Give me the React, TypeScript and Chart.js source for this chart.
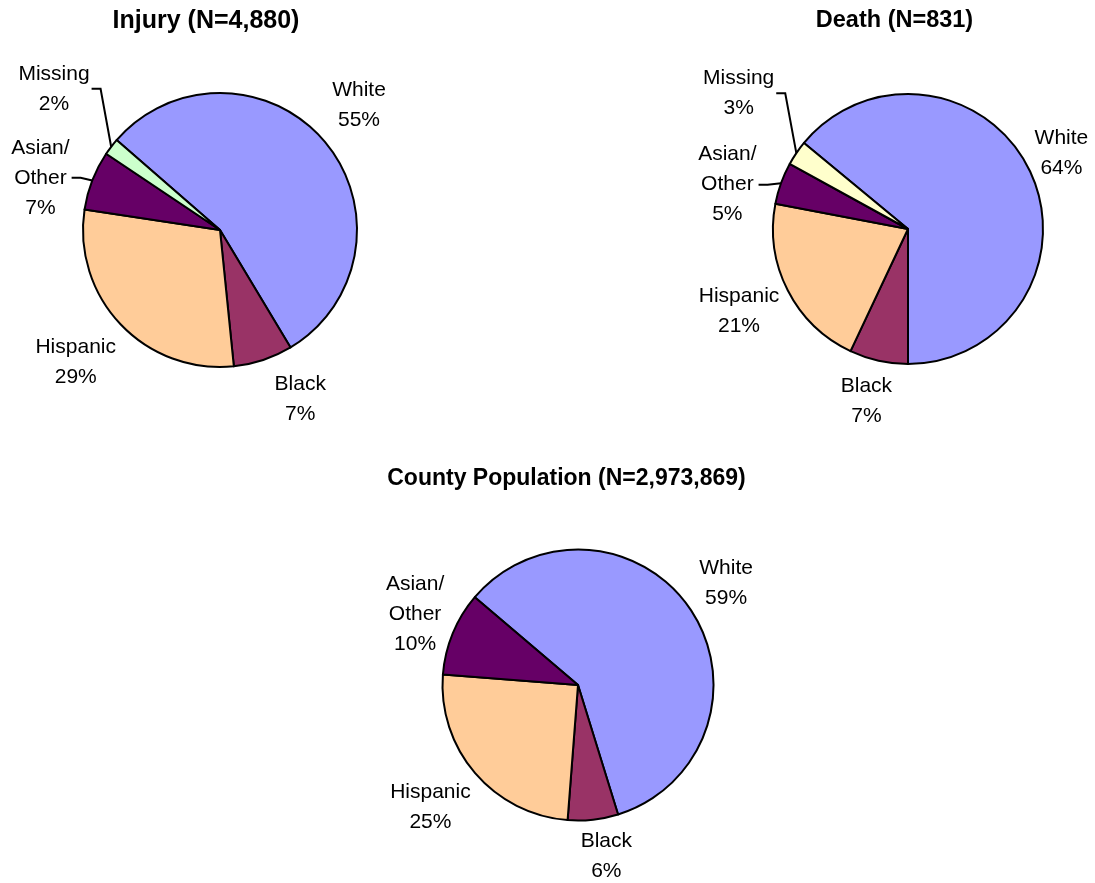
import React, { useEffect, useRef } from "react";
import { Chart, registerables } from "chart.js";

Chart.register(...registerables);

const FONT = '"Liberation Sans", Arial, Helvetica, sans-serif';

// ---- data ----
const injuryCategories = ["White", "Black", "Hispanic", "Asian/Other", "Missing"];
const injuryValues = [55, 7, 29, 7, 2];
const deathCategories = ["White", "Black", "Hispanic", "Asian/Other", "Missing"];
const deathValues = [64, 7, 21, 5, 3];
const popCategories = ["White", "Black", "Hispanic", "Asian/Other"];
const popValues = [59, 6, 25, 10];

const injuryColors = ["#9999FF", "#993366", "#FFCC99", "#660066", "#CCFFCC"];
const deathColors = ["#9999FF", "#993366", "#FFCC99", "#660066", "#FFFFCC"];
const popColors = ["#9999FF", "#993366", "#FFCC99", "#660066"];

// ---- layout (label placement: [angle nudge in deg, distance beyond rim]) ----
type Panel = {
  title: string;
  titleSize: number;
  titleX: number;
  titleY: number;
  categories: string[];
  values: number[];
  colors: string[];
  rotation: number;
  left: number;
  top: number;
  width: number;
  height: number;
  cx: number;
  cy: number;
  r: number;
  place: [number, number][];
  leaders: boolean[];
};

const BW = 2;
const LABEL_SIZE = 21;
const LINE_H = 30;

const panels: Panel[] = [
  {
    title: "Injury (N=4,880)",
    titleSize: 25,
    titleX: 206,
    titleY: 21,
    categories: injuryCategories,
    values: injuryValues,
    colors: injuryColors,
    rotation: -49,
    left: 0,
    top: 0,
    width: 548,
    height: 440,
    cx: 220,
    cy: 230,
    r: 137,
    place: [[-2, 50], [-7, 50], [1, 59], [-5, 50], [3, 81]],
    leaders: [false, false, false, true, true],
  },
  {
    title: "Death (N=831)",
    titleSize: 23.5,
    titleX: 894.5,
    titleY: 21,
    categories: deathCategories,
    values: deathValues,
    colors: deathColors,
    rotation: -50.4,
    left: 548,
    top: 0,
    width: 547,
    height: 440,
    cx: 908,
    cy: 229,
    r: 135,
    place: [[-1, 36], [1, 42], [1, 53], [-6, 51], [4.5, 82]],
    leaders: [false, false, false, true, true],
  },
  {
    title: "County Population (N=2,973,869)",
    titleSize: 23,
    titleX: 566.5,
    titleY: 479,
    categories: popCategories,
    values: popValues,
    colors: popColors,
    rotation: -49.6,
    left: 0,
    top: 440,
    width: 1095,
    height: 443,
    cx: 578,
    cy: 685,
    r: 135.5,
    place: [[-1, 44], [-3, 38], [1, 56], [1, 42]],
    leaders: [false, false, false, false],
  },
];

const labelPlugin = {
  id: "pieLabels",
  afterDraw(chart: any) {
    const p: Panel = chart.options.plugins.pieLabels.panel;
    const ctx = chart.ctx;
    ctx.save();
    // title
    ctx.fillStyle = "#000";
    ctx.textAlign = "center";
    ctx.textBaseline = "middle";
    ctx.font = `bold ${p.titleSize}px ${FONT}`;
    ctx.fillText(p.title, p.titleX - p.left, p.titleY - p.top);

    const meta = chart.getDatasetMeta(0);
    ctx.font = `${LABEL_SIZE}px ${FONT}`;
    meta.data.forEach((el: any, i: number) => {
      const { x, y, startAngle, endAngle, outerRadius } = el.getProps(
        ["x", "y", "startAngle", "endAngle", "outerRadius"],
        true
      );
      const midRaw = (startAngle + endAngle) / 2;
      const [dAng, extra] = p.place[i];
      const mid = midRaw + (dAng * Math.PI) / 180;
      const dist = outerRadius + extra;
      const bx = x + dist * Math.cos(mid);
      const by = y + dist * Math.sin(mid);
      const lines = p.categories[i].replace("/", "/\n").split("\n");
      lines.push(`${p.values[i]}%`);
      const n = lines.length;
      let maxW = 0;
      lines.forEach((t, k) => {
        maxW = Math.max(maxW, ctx.measureText(t).width);
        ctx.fillText(t, bx, by + (k - (n - 1) / 2) * LINE_H);
      });
      if (p.leaders[i]) {
        const sx = bx + maxW / 2 + 2;
        ctx.beginPath();
        ctx.strokeStyle = "#000";
        ctx.lineWidth = 2;
        ctx.lineJoin = "miter";
        ctx.moveTo(sx, by);
        ctx.lineTo(sx + 9, by);
        ctx.lineTo(x + outerRadius * Math.cos(midRaw), y + outerRadius * Math.sin(midRaw));
        ctx.stroke();
      }
    });
    ctx.restore();
  },
};

function PieChart({ p }: { p: Panel }) {
  const ref = useRef<HTMLCanvasElement>(null);
  useEffect(() => {
    if (!ref.current) return;
    const size = 2 * p.r + BW;
    const localCx = p.cx - p.left;
    const localCy = p.cy - p.top;
    const padLeft = localCx - size / 2;
    const padTop = localCy - size / 2;
    const chart = new Chart(ref.current, {
      type: "pie",
      data: {
        labels: p.categories,
        datasets: [
          {
            data: p.values,
            backgroundColor: p.colors,
            borderColor: "#000",
            borderWidth: BW,
            hoverBorderWidth: BW,
            borderJoinStyle: "round",
          } as any,
        ],
      },
      options: {
        responsive: false,
        animation: false,
        devicePixelRatio: 1,
        rotation: p.rotation,
        layout: {
          padding: {
            left: padLeft,
            top: padTop,
            right: p.width - padLeft - size,
            bottom: p.height - padTop - size,
          },
        },
        events: [],
        plugins: {
          legend: { display: false },
          title: { display: false },
          tooltip: { enabled: false },
          pieLabels: { panel: p },
        } as any,
      },
      plugins: [labelPlugin],
    });
    return () => chart.destroy();
  }, [p]);
  return (
    <canvas
      ref={ref}
      width={p.width}
      height={p.height}
      style={{
        position: "absolute",
        left: p.left,
        top: p.top,
        width: p.width,
        height: p.height,
      }}
    />
  );
}

export default function App() {
  return (
    <div
      style={{
        position: "absolute",
        left: 0,
        top: 0,
        width: 1095,
        height: 883,
        background: "#fff",
        overflow: "hidden",
      }}
    >
      {panels.map((p) => (
        <PieChart key={p.title} p={p} />
      ))}
    </div>
  );
}
